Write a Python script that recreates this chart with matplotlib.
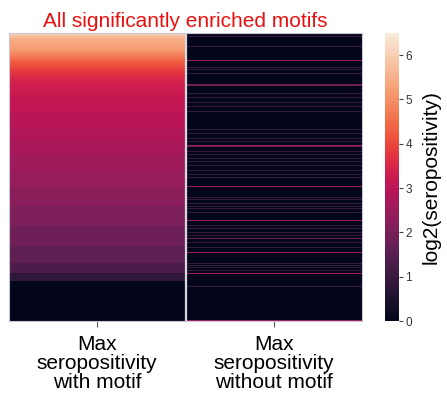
import matplotlib
matplotlib.use("Agg")
import matplotlib.pyplot as plt
import numpy as np
import seaborn as sns

plt.rcParams["font.family"] = ["Liberation Sans", "DejaVu Sans"]

# ---------------------------------------------------------
# Data: log2(seropositivity) per motif row
# ---------------------------------------------------------
N_ROWS = 288

# top rows of the "with motif" column, one value per row (descending)
with_top = [6.1, 5.95, 5.8, 5.7, 5.6, 5.5,
            5.45, 5.42, 5.4, 5.37, 5.34, 5.31, 5.28, 5.25, 5.22, 5.2, 5.17, 5.15,
            5.05, 4.98, 4.9, 4.82, 4.75, 4.68, 4.6, 4.53, 4.46, 4.4,
            4.3, 4.25, 4.2, 4.15, 4.1, 4.05, 4.0, 3.95, 3.9, 3.85,
            3.8, 3.76, 3.72, 3.68, 3.64, 3.6, 3.56, 3.52, 3.48, 3.45,
            3.42, 3.4, 3.38, 3.36, 3.35, 3.33, 3.31, 3.3, 3.28, 3.27, 3.25,
            3.24, 3.22, 3.21, 3.2]
# lower part: flat bands, value and number of rows in the band
with_levels = [3.12, 2.98, 2.84, 2.7, 2.56, 2.45, 2.27, 2.08, 1.83, 1.59, 1.3, 0.8, 0.0]
with_counts = [15, 17, 13, 13, 17, 15, 20, 20, 20, 17, 10, 8, 40]

# "without motif" column: mostly 0, a few non-zero rows
without_bright_rows = [27, 112, 153, 187, 219, 240, 287]
without_mid_rows = [51, 52, 113, 205]
without_dim_rows = [3, 13, 34, 36, 40, 60, 64, 69, 73, 78, 96, 100, 105, 108,
                    118, 121, 125, 128, 132, 137, 141, 144, 164, 166, 170, 173,
                    175, 179, 192, 195, 199, 202, 209, 214, 230, 232, 234, 237,
                    253]
bright_val, mid_val, dim_val = 2.4, 1.8, 0.9

col_labels = ["Max\nseropositivity\nwith motif", "Max\nseropositivity\nwithout motif"]

# ---------------------------------------------------------
# Build matrix
# ---------------------------------------------------------
with_motif = np.concatenate([with_top, np.repeat(with_levels, with_counts)])
without_motif = np.zeros(N_ROWS)
without_motif[without_dim_rows] = dim_val
without_motif[without_mid_rows] = mid_val
without_motif[without_bright_rows] = bright_val
data = np.column_stack([with_motif, without_motif])

# ---------------------------------------------------------
# Plot
# ---------------------------------------------------------
fig = plt.figure(figsize=(4.47, 3.93), dpi=100)
ax = fig.add_axes([0.020, 0.183, 0.790, 0.733])
cax = fig.add_axes([0.862, 0.183, 0.031, 0.733])

sns.heatmap(data, ax=ax, cbar_ax=cax, cmap="rocket", vmin=0, vmax=6.5,
            xticklabels=col_labels, yticklabels=False, linecolor="face",
            antialiased=False)

ax.axvline(1, color="#d8d8e0", lw=1.6)
for s in ax.spines.values():
    s.set_visible(True)
    s.set_color("#c8c8d4")
    s.set_linewidth(0.8)

ax.tick_params(axis="x", length=4, color="#555555", labelsize=15, rotation=0, pad=6)
for lbl in ax.get_xticklabels():
    lbl.set_linespacing(1.0)
ax.set_title("All significantly enriched motifs", color="#e8110f",
             fontsize=15, pad=4)

cax.tick_params(length=3, color="#444444", labelsize=8.5, labelcolor="#333333", pad=1.5)
cax.set_yticks([0, 1, 2, 3, 4, 5, 6])
cax.set_ylabel("log2(seropositivity)", fontsize=15, labelpad=7)

fig.savefig("out.png", dpi=100)
